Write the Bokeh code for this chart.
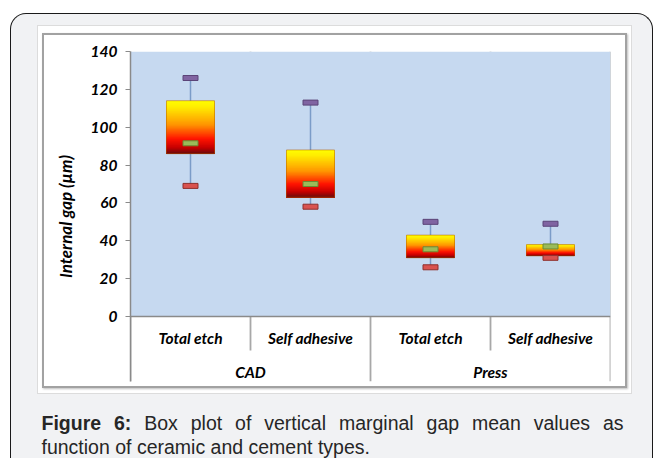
from bokeh.plotting import figure
from bokeh.layouts import column
from bokeh.models import FactorRange, Range1d, BoxAnnotation, Span, FixedTicker
from bokeh.core.properties import value
from bokeh.embed import file_html
from bokeh.resources import INLINE

# ---- data ----
groups = ["CAD", "CAD", "Press", "Press"]
cements = ["Total etch", "Self adhesive", "Total etch", "Self adhesive"]
group_names = ["CAD", "Press"]
minimum = [69, 58, 26, 31]
q1 = [86, 63, 31, 32]
median = [91.5, 70, 35.5, 37]
q3 = [114, 88, 43, 38]
maximum = [126, 113, 50, 49]
y_ticks = [0, 20, 40, 60, 80, 100, 120, 140]
y_label = "Internal gap (\u00b5m)"
caption_bold = "Figure 6:"
caption_line1 = "Box plot of vertical marginal gap mean values as"
caption_line2 = "function of ceramic and cement types."

factors = list(zip(groups, cements))

FONT = "Lato"
AXIS_GRAY = "#8a8a8a"
SEP_GRAY = "#a8a8a8"

# plot geometry (pixels)
PLOT_H, LABEL_H = 265, 65
PX = PLOT_H / max(y_ticks)          # pixels per data unit
y_top = max(y_ticks)
y_bottom = -LABEL_H / PX            # label strip below the value axis

p = figure(width=581, height=351,
           x_range=FactorRange(*factors, factor_padding=0, group_padding=0, range_padding=0),
           y_range=Range1d(y_bottom, y_top),
           output_backend="svg", toolbar_location=None,
           min_border_left=86, min_border_right=15, min_border_top=16, min_border_bottom=5,
           border_fill_color="white", background_fill_color="white", outline_line_color=None)
p.grid.visible = False
p.xaxis.visible = False

# blue plot area (values 0..140)
p.add_layout(BoxAnnotation(bottom=0, top=y_top, fill_color="#c6d9f0", fill_alpha=1,
                           line_color=None, level="underlay"))
p.add_layout(Span(location=0, dimension="width", line_color=AXIS_GRAY, line_width=1.5))

# separators between categories (through plot and label rows)
n = len(factors)
sx, sy0, sy1 = [], [], []
for b in range(n + 1):
    is_group_edge = b in (0, n) or groups[b - 1] != groups[b]
    sx.append(b)
    sy0.append(y_top)
    sy1.append(y_bottom if is_group_edge else -34 / PX)
p.segment(x0=sx, y0=sy0, x1=sx, y1=sy1, line_color=SEP_GRAY, line_width=1.8, level="underlay")

# ---- box plot glyphs ----
p.segment(x0=factors, y0=minimum, x1=factors, y1=maximum, line_color="#7b9cc8", line_width=1.5)

stops = [(0.0, (255, 255, 0)), (0.12, (255, 236, 0)), (0.45, (255, 150, 0)),
         (0.72, (255, 20, 0)), (0.88, (200, 0, 0)), (1.0, (105, 10, 10))]


def grad(t):
    for (t0, c0), (t1, c1) in zip(stops[:-1], stops[1:]):
        if t0 <= t <= t1:
            f = (t - t0) / (t1 - t0)
            return "#%02x%02x%02x" % tuple(int(round(a + (b - a) * f)) for a, b in zip(c0, c1))
    return "#%02x%02x%02x" % stops[-1][1]


N = 60
gx, gtop, gbot, gcol = [], [], [], []
for f, lo, hi in zip(factors, q1, q3):
    for k in range(N):
        gx.append(f)
        gtop.append(hi - (hi - lo) * k / N)
        gbot.append(lo)
        gcol.append(grad((k + 0.5) / N))
p.vbar(x=gx, top=gtop, bottom=gbot, width=0.4, fill_color=gcol, line_color=None)
p.vbar(x=factors, top=q3, bottom=q1, width=0.4, fill_color=None, line_color="#b35a00",
       line_alpha=0.5, line_width=1)

p.rect(x=factors, y=maximum, width=15, height=5, width_units="screen", height_units="screen",
       fill_color="#8064a2", line_color="#5b4478", line_width=1)
p.rect(x=factors, y=median, width=15, height=5, width_units="screen", height_units="screen",
       fill_color="#9bbb59", line_color="#6b8a34", line_width=1)
p.rect(x=factors, y=minimum, width=15, height=5, width_units="screen", height_units="screen",
       fill_color="#d9534f", line_color="#8f2f2c", line_width=1)

# category labels (two rows)
p.text(x=factors, y=[-21 / PX] * n, text=cements, text_font=value(FONT),
       text_font_style="bold italic", text_font_size="15.5px", text_color="black",
       text_align="center", text_baseline="middle")
p.text(x=group_names, y=[-55 / PX] * len(group_names), text=group_names, text_font=value(FONT),
       text_font_style="bold italic", text_font_size="15.5px", text_color="black",
       text_align="center", text_baseline="middle")

# ---- y axis ----
ya = p.yaxis[0]
ya.ticker = FixedTicker(ticks=y_ticks)
ya.axis_label = y_label
ya.axis_label_text_font = FONT
ya.axis_label_text_font_style = "bold italic"
ya.axis_label_text_font_size = "17px"
ya.axis_label_text_color = "black"
ya.axis_label_standoff = 12
ya.major_label_text_font = FONT
ya.major_label_text_font_style = "bold italic"
ya.major_label_text_font_size = "15.5px"
ya.major_label_text_color = "black"
ya.major_label_standoff = 8
ya.axis_line_color = AXIS_GRAY
ya.axis_line_width = 1.5
ya.major_tick_line_color = AXIS_GRAY
ya.major_tick_out = 5
ya.major_tick_in = 0
ya.minor_tick_line_color = None

# ---- caption (justified first line) ----
AW = {' ': 278, 'a': 556, 'b': 556, 'c': 500, 'd': 556, 'e': 556, 'f': 278, 'g': 556, 'h': 556,
      'i': 222, 'l': 222, 'm': 833, 'n': 556, 'o': 556, 'p': 556, 'r': 333, 's': 500, 't': 278,
      'u': 556, 'v': 500, 'x': 500, 'y': 500, 'B': 667, '.': 278}
AWB = {'F': 611, 'i': 278, 'g': 611, 'u': 611, 'r': 389, 'e': 556, '6': 556, ':': 333, ' ': 278}
CAP_SIZE = 19.5
CAP_FONT = "Liberation Sans"
CAP_COLOR = "#262626"
CAP_W, CAP_H = 595, 64
cap_left, cap_right, base1, base2 = 4, 586, 28, 52

cap = figure(width=CAP_W, height=CAP_H, x_range=Range1d(0, CAP_W), y_range=Range1d(CAP_H, 0),
             output_backend="svg", toolbar_location=None, min_border=0,
             border_fill_color="#f1f2f4", background_fill_color="#f1f2f4", outline_line_color=None)
cap.axis.visible = False
cap.grid.visible = False

words = [(w, True) for w in caption_bold.split()] + [(w, False) for w in caption_line1.split()]
widths = [sum((AWB if b else AW).get(ch, 556) for ch in w) * CAP_SIZE / 1000 for w, b in words]
gap = (cap_right - cap_left - sum(widths)) / (len(words) - 1)
wx, xpos = [], cap_left
for wd in widths:
    wx.append(xpos)
    xpos += wd + gap
bold_words = [w for (w, b) in words if b]
bold_x = [x for x, (w, b) in zip(wx, words) if b]
norm_words = [w for (w, b) in words if not b]
norm_x = [x for x, (w, b) in zip(wx, words) if not b]
cap.text(x=bold_x, y=[base1] * len(bold_x), text=bold_words, text_font=value(CAP_FONT),
         text_font_size=f"{CAP_SIZE}px", text_font_style="bold", text_color=CAP_COLOR,
         text_baseline="alphabetic", text_align="left")
cap.text(x=norm_x, y=[base1] * len(norm_x), text=norm_words, text_font=value(CAP_FONT),
         text_font_size=f"{CAP_SIZE}px", text_color=CAP_COLOR,
         text_baseline="alphabetic", text_align="left")
cap.text(x=[cap_left], y=[base2], text=[caption_line2], text_font=value(CAP_FONT),
         text_font_size=f"{CAP_SIZE}px", text_color=CAP_COLOR,
         text_baseline="alphabetic", text_align="left")

# ---- framing (card, white panel, grey border) ----
inner = column(p, styles={"border": "2px solid #a2a2a2", "box-shadow": "1px 1px 2px #bdbdbd"})
panel = column(inner, styles={"background-color": "white", "border": "1px solid #dcdcdc",
                              "padding": "7px 4px 5px 4px"})
card = column(panel, cap, styles={"background-color": "#f1f2f4", "border": "1.5px solid #1a1a1a",
                                  "border-bottom": "none", "border-radius": "16px 16px 0 0",
                                  "padding": "11px 20px 0px 26.5px", "margin": "12.5px 0 0 9.5px"})

open("out.html", "w").write(file_html(card, INLINE))
